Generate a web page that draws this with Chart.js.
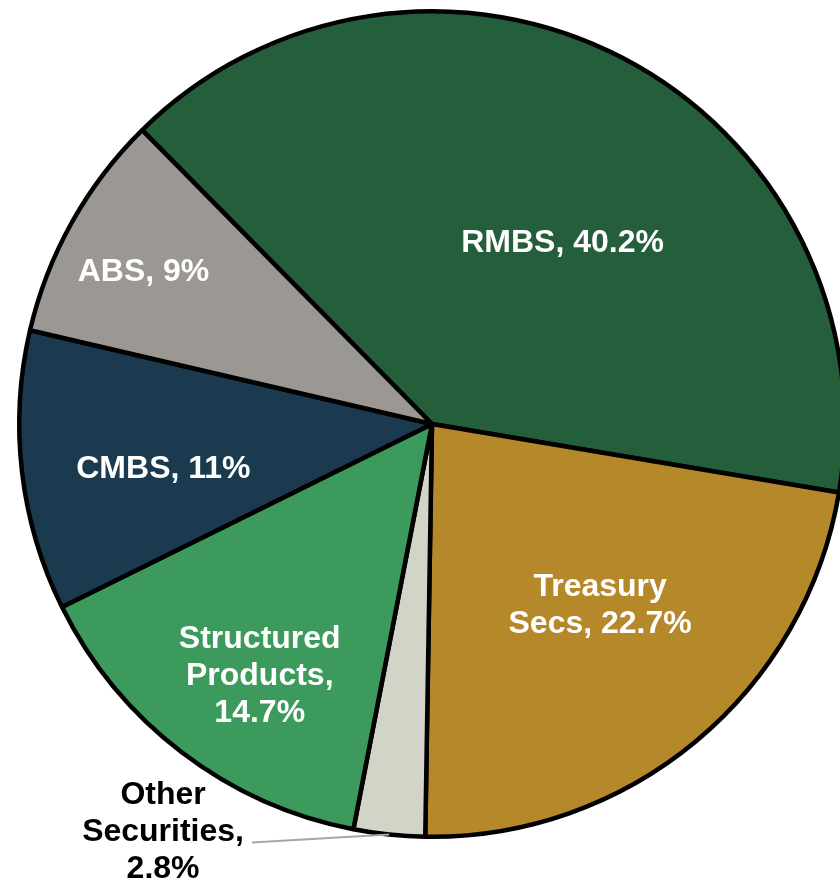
<!DOCTYPE html>
<html>
<head>
<meta charset="utf-8">
<script src="https://cdn.jsdelivr.net/npm/chart.js@4.4.1/dist/chart.umd.min.js"></script>
<style>
  html, body { margin: 0; padding: 0; background: #fff; overflow: hidden; }
  #wrap { width: 864px; height: 885px; }
</style>
</head>
<body>
<div id="wrap"><canvas id="pieChart" width="864" height="885"></canvas></div>
<script>
const categories = ["RMBS", "Treasury\nSecs", "Other\nSecurities", "Structured\nProducts", "CMBS", "ABS"];
const shares = [40.2, 22.7, 2.8, 14.7, 11, 9];
const sliceColors = ["#255E3A", "#B5882A", "#D2D4C8", "#3D9A5D", "#1C3A4F", "#9B9894"];

// label placement: fraction of radius, angle shift (deg) from slice middle
const labelRadius = [0.54, 0.60, 1.185, 0.74, 0.66, 0.79];
const labelShift = [8.4, -3, 27.4, -3, -3, -1.5];
const valueOnNewLine = [false, false, true, true, false, false];
const labelColors = ["#fff", "#fff", "#000", "#fff", "#fff", "#fff"];

const FONT = "bold 32px 'Liberation Sans', Arial, sans-serif";
const LINE_HEIGHT = 37;

function labelLines(i) {
  const parts = categories[i].split("\n");
  const value = `${shares[i]}%`;
  if (valueOnNewLine[i]) {
    parts[parts.length - 1] += ",";
    parts.push(value);
  } else {
    parts[parts.length - 1] += `, ${value}`;
  }
  return parts;
}

const sliceLabels = {
  id: "sliceLabels",
  afterDatasetsDraw(chart) {
    const ctx = chart.ctx;
    const arcs = chart.getDatasetMeta(0).data;
    ctx.save();
    ctx.font = FONT;
    ctx.textAlign = "center";
    ctx.textBaseline = "middle";
    arcs.forEach((arc, i) => {
      const { x, y, startAngle, endAngle, outerRadius } = arc.getProps(["x", "y", "startAngle", "endAngle", "outerRadius"], true);
      const mid = (startAngle + endAngle) / 2;
      const angle = mid + labelShift[i] * Math.PI / 180;
      const lx = x + Math.cos(angle) * outerRadius * labelRadius[i];
      const ly = y + Math.sin(angle) * outerRadius * labelRadius[i];
      const lines = labelLines(i);
      const top = ly - (lines.length - 1) * LINE_HEIGHT / 2;

      // outside label gets a thin leader line back to its slice
      if (labelRadius[i] > 1) {
        const midLine = Math.floor(lines.length / 2);
        const half = ctx.measureText(lines[midLine]).width / 2;
        ctx.strokeStyle = "#A6A6A6";
        ctx.lineWidth = 2;
        ctx.beginPath();
        ctx.moveTo(x + Math.cos(mid) * outerRadius, y + Math.sin(mid) * outerRadius);
        ctx.lineTo(lx + half + 8, top + midLine * LINE_HEIGHT + 10);
        ctx.stroke();
      }

      ctx.fillStyle = labelColors[i];
      lines.forEach((line, k) => {
        ctx.fillText(line, lx, top + k * LINE_HEIGHT);
      });
    });
    ctx.restore();
  }
};

new Chart(document.getElementById("pieChart"), {
  type: "pie",
  data: {
    labels: categories.map(c => c.replace("\n", " ")),
    datasets: [{
      data: shares,
      backgroundColor: sliceColors,
      borderColor: "#000",
      borderWidth: 4.5
    }]
  },
  options: {
    responsive: false,
    animation: false,
    rotation: -44.6,
    layout: { padding: { top: 9, bottom: 46, left: 0, right: 0 } },
    plugins: {
      legend: { display: false },
      tooltip: { enabled: false }
    }
  },
  plugins: [sliceLabels]
});
</script>
</body>
</html>
